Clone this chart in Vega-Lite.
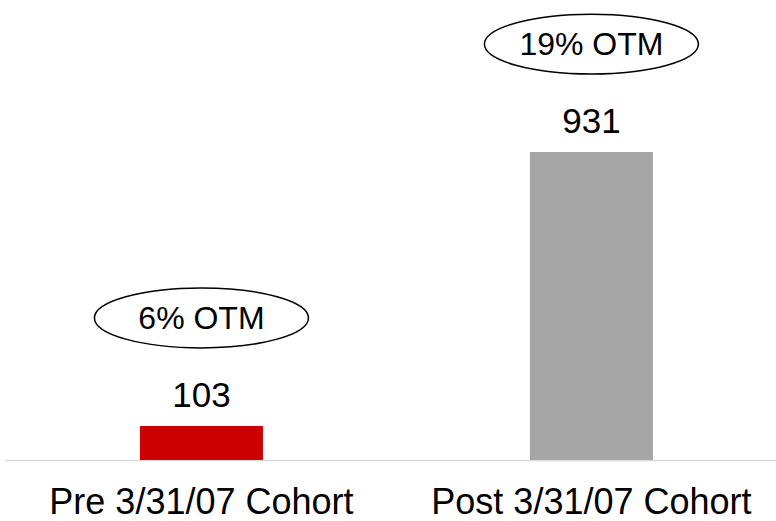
{
  "$schema": "https://vega.github.io/schema/vega-lite/v6.json",
  "width": 771,
  "height": 460,
  "autosize": {"type": "none"},
  "padding": {"left": 5, "top": 0, "right": 0, "bottom": 61},
  "background": "white",
  "config": {"view": {"stroke": null}, "font": "Liberation Sans"},
  "data": {
    "values": [
      {"cohort": "Pre 3/31/07 Cohort", "count": 103, "otm": "6% OTM"},
      {"cohort": "Post 3/31/07 Cohort", "count": 931, "otm": "19% OTM"}
    ]
  },
  "encoding": {
    "x": {
      "field": "cohort",
      "type": "nominal",
      "sort": null,
      "scale": {"paddingInner": 0.6846, "paddingOuter": 0.3308, "align": 0.523},
      "axis": {
        "title": null,
        "labelAngle": 0,
        "ticks": false,
        "tickSize": 0,
        "grid": false,
        "domainColor": "#d9d9d9",
        "domainWidth": 1.5,
        "labelFont": "Liberation Sans",
        "labelFontSize": 36,
        "labelColor": "black",
        "labelBaseline": "alphabetic",
        "labelPadding": 53,
        "labelLimit": 0,
        "labelOverlap": false
      }
    },
    "y": {
      "field": "count",
      "type": "quantitative",
      "scale": {"domain": [0, 1391], "nice": false, "zero": true},
      "axis": null
    }
  },
  "layer": [
    {
      "mark": {"type": "bar"},
      "encoding": {
        "color": {
          "field": "cohort",
          "type": "nominal",
          "scale": {"domain": ["Pre 3/31/07 Cohort", "Post 3/31/07 Cohort"], "range": ["#CC0000", "#A6A6A6"]},
          "legend": null
        }
      }
    },
    {
      "mark": {"type": "text", "dy": -19, "baseline": "alphabetic", "align": "center", "fontSize": 35, "font": "Liberation Sans", "color": "black"},
      "encoding": {"text": {"field": "count", "type": "quantitative"}}
    },
    {
      "mark": {
        "type": "point",
        "shape": "M -1 0 A 1 0.28 0 1 0 1 0 A 1 0.28 0 1 0 -1 0 Z",
        "size": 45796,
        "filled": false,
        "stroke": "black",
        "strokeWidth": 1.5,
        "opacity": 1,
        "yOffset": -108
      },
      "encoding": {}
    },
    {
      "mark": {"type": "text", "dy": -97, "baseline": "alphabetic", "align": "center", "fontSize": 32, "font": "Liberation Sans", "color": "black"},
      "encoding": {"text": {"field": "otm", "type": "nominal"}}
    }
  ]
}
